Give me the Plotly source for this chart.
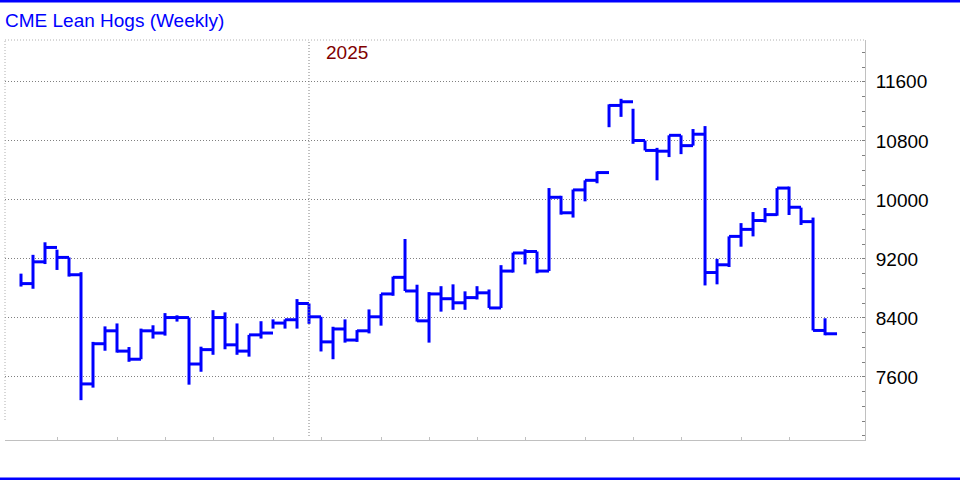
import pandas as pd
import plotly.graph_objects as go

# weekly HLC bars, CME Lean Hogs (nearby)
first_week = "2024-07-19"
year_start = "2025-01-03"
high = [9000, 9255, 9425, 9325, 9220, 9020, 8075, 8285, 8325, 8005, 8255, 8300, 8465, 8435, 8405, 8010,
        8505, 8475, 8325, 8170, 8355, 8380, 8380, 8655, 8595, 8415, 8280, 8380, 8235, 8515, 8725, 8960,
        9470, 8850, 8750, 8830, 8855, 8760, 8830, 8785, 9115, 9285, 9330, 9300, 10160, 10055, 10140, 10265,
        10385, 11295, 11370, 11235, 10805, 10705, 10875, 10875, 10960, 11000, 9200, 9505, 9685, 9835, 9890,
        10160, 10180, 9895, 9760, 8395]
low = [8825, 8795, 9130, 9050, 8960, 7285, 7455, 7955, 7930, 7805, 7840, 8120, 8160, 8350, 7495, 7670,
       7900, 7975, 7900, 7875, 8120, 8255, 8255, 8255, 8320, 7945, 7840, 8065, 8075, 8190, 8295, 8700,
       8765, 8350, 8065, 8485, 8510, 8510, 8650, 8535, 8535, 9015, 9125, 9005, 9035, 9800, 9760, 9980,
       10225, 10985, 11125, 10760, 10670, 10265, 10580, 10620, 10735, 8840, 8855, 9090, 9365, 9505, 9695,
       9785, 9795, 9660, 8230, 8165]
close = [8865, 9160, 9355, 9220, 8985, 7505, 8050, 8225, 7950, 7840, 8225, 8195, 8405, 8405, 7775, 7970,
         8405, 8035, 7950, 8170, 8195, 8330, 8375, 8595, 8415, 8075, 8250, 8100, 8225, 8415, 8725, 8950,
         8765, 8360, 8725, 8660, 8605, 8675, 8740, 8535, 9035, 9280, 9300, 9035, 10035, 9825, 10135, 10265,
         10370, 11280, 11330, 10805, 10670, 10660, 10875, 10735, 10890, 9015, 9120, 9505, 9600, 9720, 9800,
         10160, 9900, 9705, 8230, 8185]
month_ticks = ["2024-08-09", "2024-09-13", "2024-10-11", "2024-11-08", "2024-12-13", "2025-01-10",
               "2025-02-14", "2025-03-14", "2025-04-11", "2025-05-09", "2025-06-13", "2025-07-11",
               "2025-08-08", "2025-09-12", "2025-10-10"]
price_ticks = [7600, 8400, 9200, 10000, 10800, 11600]

weeks = pd.date_range(first_week, periods=len(close), freq="7D")
step = pd.Timedelta(days=7)

# high-low stem plus a close tick running out to the next week
xs, ys = [], []
for d, h, l, c in zip(weeks, high, low, close):
    xs += [d, d, None, d, d + step, None]
    ys += [l, h, None, c, c, None]

fig = go.Figure()
fig.add_trace(go.Scatter(x=xs, y=ys, mode="lines",
                         line=dict(color="#0000ff", width=3), hoverinfo="skip",
                         showlegend=False))

font = "Liberation Sans, Arial, sans-serif"
x_range = [weeks[0] - step * 1.333, weeks[0] + step * 70.33]

fig.update_layout(
    width=960, height=480,
    margin=dict(l=5, r=95, t=40, b=40),
    paper_bgcolor="white", plot_bgcolor="white",
    font=dict(family=font, size=19, color="black"),
    xaxis=dict(
        type="date", range=x_range, showgrid=False, zeroline=False,
        tickvals=month_ticks, showticklabels=False,
        ticks="inside", ticklen=3, tickcolor="#c0c0c0",
        showline=True, linecolor="#c0c0c0", linewidth=1,
    ),
    yaxis=dict(
        side="right", range=[6745, 12167], tickvals=price_ticks, tickformat="d",
        ticks="", ticklabelstandoff=6,
        showgrid=True, gridcolor="#808080", griddash="1px,2px", gridwidth=1,
        zeroline=False, showline=True, linecolor="#c0c0c0", linewidth=1,
        minor=dict(dtick=200, ticks="inside", ticklen=3, tickcolor="#808080", showgrid=False),
    ),
    shapes=[
        # dotted frame top/left and year separator
        dict(type="line", xref="paper", yref="paper", x0=0, x1=1, y0=1, y1=1,
             line=dict(color="#b0b0b0", width=1, dash="1px,2px")),
        dict(type="line", xref="paper", yref="paper", x0=0, x1=0, y0=0.05, y1=1,
             line=dict(color="#b0b0b0", width=1, dash="1px,2px")),
        dict(type="line", xref="x", yref="paper", x0=year_start, x1=year_start, y0=0.01, y1=1,
             line=dict(color="#808080", width=1, dash="1px,2px")),
        # blue rules at top and bottom of the page
        dict(type="line", xref="paper", yref="paper", x0=-0.01, x1=1.12, y0=1.0975, y1=1.0975,
             line=dict(color="#0000ff", width=3)),
        dict(type="line", xref="paper", yref="paper", x0=-0.01, x1=1.12, y0=-0.0975, y1=-0.0975,
             line=dict(color="#0000ff", width=3)),
    ],
    annotations=[
        dict(text="CME Lean Hogs (Weekly)", xref="paper", yref="paper", x=0, y=1.0475, xshift=-2,
             xanchor="left", yanchor="middle", showarrow=False,
             font=dict(family=font, size=19, color="#0000ff")),
        dict(text="2025", xref="x", yref="paper", x=year_start, y=0.97, xshift=15,
             xanchor="left", yanchor="middle", showarrow=False,
             font=dict(family=font, size=19, color="#800000")),
    ],
)

fig.write_html("out.html", config=dict(displayModeBar=False),
               post_script="document.body.style.margin='0';")
